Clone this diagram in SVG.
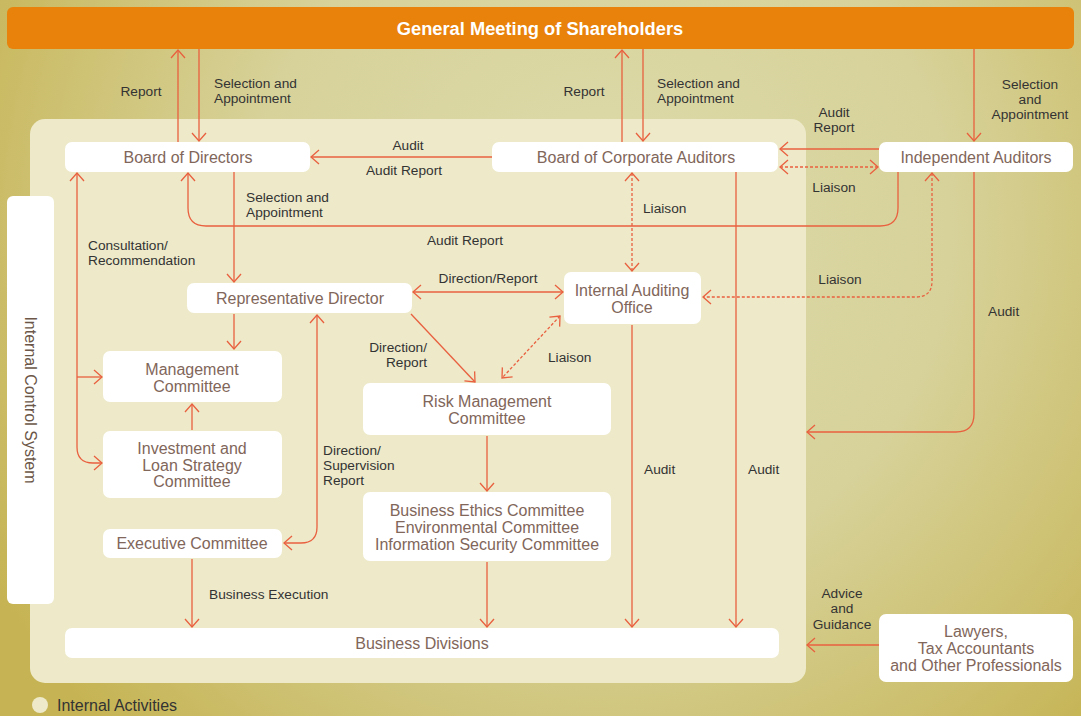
<svg xmlns="http://www.w3.org/2000/svg" width="1081" height="716" viewBox="0 0 1081 716">
<defs>
<radialGradient id="bg" gradientUnits="userSpaceOnUse" cx="600" cy="230" r="700">
<stop offset="0" stop-color="#dedbab"/>
<stop offset="0.5" stop-color="#d7d29a"/>
<stop offset="1" stop-color="#c6b454"/>
</radialGradient>
<marker id="ah" viewBox="0 0 10 16" refX="9" refY="8" markerWidth="10" markerHeight="16" markerUnits="userSpaceOnUse" orient="auto-start-reverse">
<path d="M1,1 L9,8 L1,15" fill="none" stroke="#e9603f" stroke-width="1.3"/>
</marker>
<style>
.node{fill:#ffffff}
.nt{font-family:"Liberation Sans",Arial,sans-serif;font-size:16px;fill:#81665a;text-anchor:middle;dominant-baseline:central}
.lb{font-family:"Liberation Sans",Arial,sans-serif;font-size:13.7px;fill:#333333;dominant-baseline:central}
.c{text-anchor:middle}
.r{text-anchor:end}
.cn{fill:none;stroke:#e9603f;stroke-width:1.3}
.a1{marker-end:url(#ah)}
.a2{marker-start:url(#ah);marker-end:url(#ah)}
.d{stroke-dasharray:3 2}
</style>
</defs>
<rect x="0" y="0" width="1081" height="716" fill="url(#bg)"/>
<rect x="30" y="119" width="776" height="564" rx="15" fill="#ede9c9"/>

<g id="header">
<rect x="7" y="7" width="1067" height="42" rx="6" fill="#e8820a"/>
<text x="540" y="28" font-family="'Liberation Sans',Arial,sans-serif" font-size="18.3" font-weight="bold" fill="#ffffff" text-anchor="middle" dominant-baseline="central">General Meeting of Shareholders</text>
</g>

<g id="internal-control">
<rect x="7" y="196" width="47" height="408" rx="6" class="node"/>
<text transform="translate(30,400) rotate(90)" x="0" y="0" class="nt" style="fill:#6b5647">Internal Control System</text>
</g>

<g id="connectors">
<line x1="178" y1="142" x2="178" y2="50" class="cn a1"/>
<line x1="199" y1="49" x2="199" y2="141" class="cn a1"/>
<line x1="622" y1="142" x2="622" y2="50" class="cn a1"/>
<line x1="643" y1="49" x2="643" y2="141" class="cn a1"/>
<line x1="974" y1="49" x2="974" y2="141" class="cn a1"/>
<line x1="492" y1="157" x2="311" y2="157" class="cn a1"/>
<line x1="879" y1="149" x2="780" y2="149" class="cn a1"/>
<line x1="780" y1="167" x2="878" y2="167" class="cn a2 d"/>
<path d="M898,172 V208 Q898,226 880,226 H206 Q188,226 188,208 V173" class="cn a1"/>
<line x1="234" y1="172" x2="234" y2="282" class="cn a1"/>
<path d="M102,463 H93 Q77,463 77,447 V173" class="cn a2"/>
<line x1="77" y1="377" x2="102" y2="377" class="cn a1"/>
<line x1="413" y1="292" x2="563" y2="292" class="cn a2"/>
<line x1="234" y1="314" x2="234" y2="349" class="cn a1"/>
<line x1="192" y1="430" x2="192" y2="404" class="cn a1"/>
<path d="M284,543 H301 Q317,543 317,527 V315" class="cn a2"/>
<line x1="411" y1="314" x2="475" y2="382" class="cn a1"/>
<line x1="560" y1="316" x2="502" y2="378" class="cn a2 d"/>
<line x1="632" y1="173" x2="632" y2="271" class="cn a2 d"/>
<path d="M932,173 V281 Q932,297 916,297 H703" class="cn a2 d"/>
<line x1="487" y1="436" x2="487" y2="491" class="cn a1"/>
<line x1="487" y1="562" x2="487" y2="627" class="cn a1"/>
<line x1="192" y1="559" x2="192" y2="627" class="cn a1"/>
<line x1="632" y1="325" x2="632" y2="627" class="cn a1"/>
<line x1="736" y1="172" x2="736" y2="627" class="cn a1"/>
<path d="M974,172 V414 Q974,432 956,432 H807" class="cn a1"/>
<line x1="879" y1="645" x2="807" y2="645" class="cn a1"/>

<text x="141" y="91" class="lb c">Report</text>
<text x="214" y="83" class="lb">Selection and</text>
<text x="214" y="98" class="lb">Appointment</text>
<text x="584" y="91" class="lb c">Report</text>
<text x="657" y="83" class="lb">Selection and</text>
<text x="657" y="98" class="lb">Appointment</text>
<text x="1030" y="84" class="lb c">Selection</text>
<text x="1030" y="99" class="lb c">and</text>
<text x="1030" y="114" class="lb c">Appointment</text>
<text x="408" y="145" class="lb c">Audit</text>
<text x="404" y="170" class="lb c">Audit Report</text>
<text x="834" y="112" class="lb c">Audit</text>
<text x="834" y="127" class="lb c">Report</text>
<text x="834" y="187" class="lb c">Liaison</text>
<text x="246" y="197" class="lb">Selection and</text>
<text x="246" y="212" class="lb">Appointment</text>
<text x="643" y="208" class="lb">Liaison</text>
<text x="465" y="240" class="lb c">Audit Report</text>
<text x="88" y="245" class="lb">Consultation/</text>
<text x="88" y="260" class="lb">Recommendation</text>
<text x="488" y="278" class="lb c">Direction/Report</text>
<text x="840" y="279" class="lb c">Liaison</text>
<text x="988" y="311" class="lb">Audit</text>
<text x="427" y="347" class="lb r">Direction/</text>
<text x="427" y="362" class="lb r">Report</text>
<text x="548" y="357" class="lb">Liaison</text>
<text x="323" y="450" class="lb">Direction/</text>
<text x="323" y="465" class="lb">Supervision</text>
<text x="323" y="480" class="lb">Report</text>
<text x="644" y="469" class="lb">Audit</text>
<text x="748" y="469" class="lb">Audit</text>
<text x="209" y="594" class="lb">Business Execution</text>
<text x="842" y="593" class="lb c">Advice</text>
<text x="842" y="608" class="lb c">and</text>
<text x="842" y="624" class="lb c">Guidance</text>
</g>

<g id="board-of-directors">
<rect x="65" y="142" width="245" height="30" rx="7" class="node"/>
<text x="188" y="157" class="nt">Board of Directors</text>
</g>
<g id="board-of-corporate-auditors">
<rect x="492" y="142" width="286" height="30" rx="7" class="node"/>
<text x="636" y="157" class="nt">Board of Corporate Auditors</text>
</g>
<g id="independent-auditors">
<rect x="879" y="142" width="194" height="30" rx="7" class="node"/>
<text x="976" y="157" class="nt">Independent Auditors</text>
</g>
<g id="representative-director">
<rect x="187" y="283" width="225" height="30" rx="7" class="node"/>
<text x="300" y="298" class="nt">Representative Director</text>
</g>
<g id="internal-auditing-office">
<rect x="564" y="272" width="137" height="52" rx="7" class="node"/>
<text x="632" y="290" class="nt">Internal Auditing</text>
<text x="632" y="307" class="nt">Office</text>
</g>
<g id="management-committee">
<rect x="103" y="351" width="179" height="51" rx="7" class="node"/>
<text x="192" y="369" class="nt">Management</text>
<text x="192" y="386" class="nt">Committee</text>
</g>
<g id="investment-loan-committee">
<rect x="103" y="431" width="179" height="67" rx="7" class="node"/>
<text x="192" y="448" class="nt">Investment and</text>
<text x="192" y="465" class="nt">Loan Strategy</text>
<text x="192" y="481" class="nt">Committee</text>
</g>
<g id="executive-committee">
<rect x="103" y="529" width="179" height="29" rx="7" class="node"/>
<text x="192" y="543" class="nt">Executive Committee</text>
</g>
<g id="risk-management-committee">
<rect x="363" y="383" width="248" height="52" rx="7" class="node"/>
<text x="487" y="401" class="nt">Risk Management</text>
<text x="487" y="418" class="nt">Committee</text>
</g>
<g id="ethics-committees">
<rect x="363" y="492" width="248" height="69" rx="7" class="node"/>
<text x="487" y="510" class="nt">Business Ethics Committee</text>
<text x="487" y="527" class="nt">Environmental Committee</text>
<text x="487" y="544" class="nt">Information Security Committee</text>
</g>
<g id="business-divisions">
<rect x="65" y="628" width="714" height="30" rx="7" class="node"/>
<text x="422" y="643" class="nt">Business Divisions</text>
</g>
<g id="lawyers">
<rect x="879" y="614" width="194" height="68" rx="7" class="node"/>
<text x="976" y="631" class="nt">Lawyers,</text>
<text x="976" y="648" class="nt">Tax Accountants</text>
<text x="976" y="665" class="nt">and Other Professionals</text>
</g>

<g id="legend">
<circle cx="40" cy="705" r="8" fill="#ede9c9"/>
<text x="57" y="705" font-family="'Liberation Sans',Arial,sans-serif" font-size="16" fill="#333333" dominant-baseline="central">Internal Activities</text>
</g>
</svg>
